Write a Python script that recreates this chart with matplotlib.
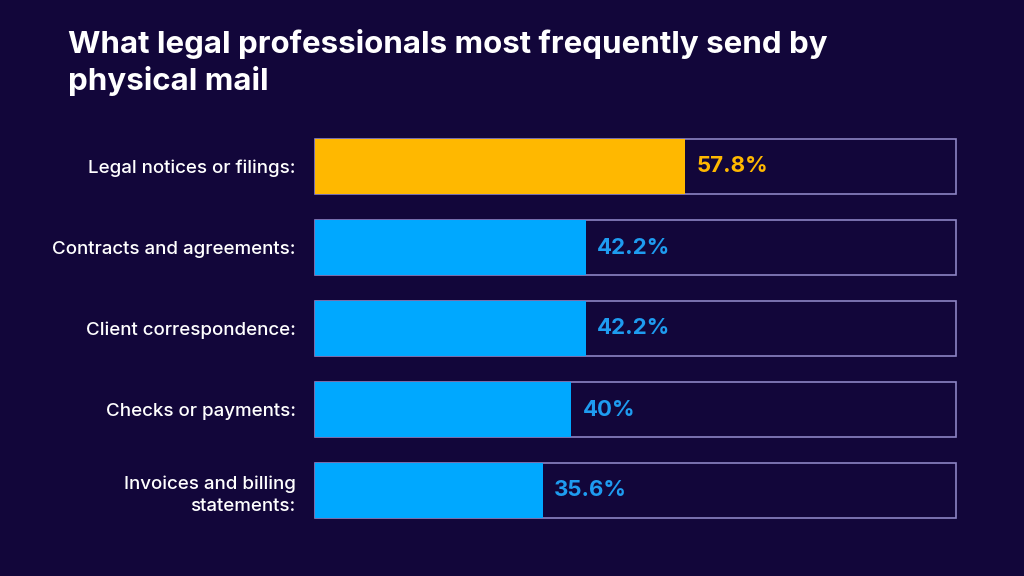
import matplotlib.pyplot as plt

# Data
categories = [
    'Legal notices or filings:',
    'Contracts and agreements:',
    'Client correspondence:',
    'Checks or payments:',
    'Invoices and billing\nstatements:',
]
values = [57.8, 42.2, 42.2, 40.0, 35.6]
value_labels = ['57.8%', '42.2%', '42.2%', '40%', '35.6%']

BG = '#12063a'
ORANGE = '#ffb800'
BLUE = '#00a8ff'
BLUE_TEXT = '#1e9cf0'
OUTLINE = '#8c84c4'

plt.rcParams['font.family'] = ['Inter', 'DejaVu Sans']

fig = plt.figure(figsize=(10.24, 5.76), dpi=100, facecolor=BG)
ax = fig.add_axes([315 / 1024, 1 - 531 / 576, 641 / 1024, 405 / 576])
ax.set_facecolor(BG)

colors = [ORANGE] + [BLUE] * (len(values) - 1)
text_colors = [ORANGE] + [BLUE_TEXT] * (len(values) - 1)
ypos = list(range(len(categories)))

# outline boxes (full 100% track)
ax.barh(ypos, [100] * len(values), height=0.68, color='none',
        edgecolor=OUTLINE, linewidth=1.2, zorder=1, clip_on=False)
ax.barh(ypos, values, height=0.68, color=colors, zorder=2)

for y, v, lab, c in zip(ypos, values, value_labels, text_colors):
    ax.annotate(lab, (v, y), xytext=(8, 0), textcoords='offset points',
                ha='left', va='center', fontsize=16, fontweight='bold',
                color=c)

ax.set_xlim(0, 100)
ax.set_ylim(4.5, -0.5)
ax.set_yticks(ypos)
ax.set_yticklabels(categories, fontsize=13.5, color='white', ha='right',
                   linespacing=1.4, fontweight='medium')
ax.tick_params(axis='y', length=0, pad=14)
ax.set_xticks([])
for s in ax.spines.values():
    s.set_visible(False)

fig.text(68 / 1024, 1 - 29 / 576,
         'What legal professionals most frequently send by\nphysical mail',
         ha='left', va='top', fontsize=22.5, fontweight='bold', color='white',
         linespacing=1.3)

fig.savefig('out.png', facecolor=BG)
